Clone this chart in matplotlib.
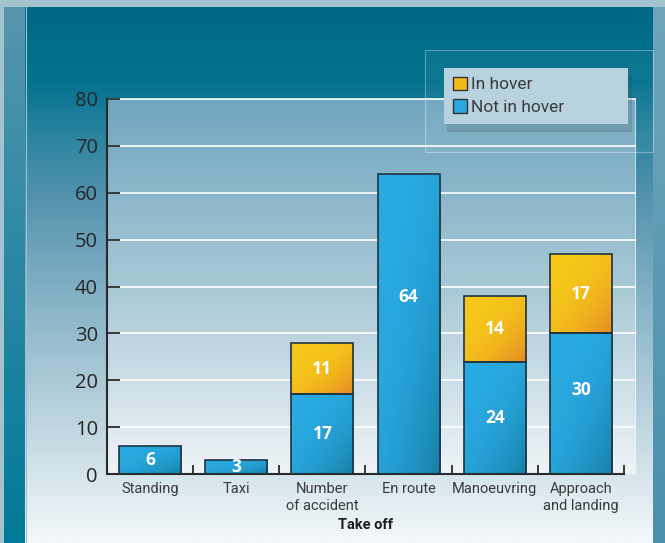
import numpy as np
import matplotlib.pyplot as plt
from matplotlib.colors import to_rgb, LinearSegmentedColormap
from matplotlib.patches import Rectangle, Patch

# Accident counts per flight phase
phases = ["Standing", "Taxi", "Number\nof accident", "En route", "Manoeuvring", "Approach\nand landing"]
not_in_hover = [6, 3, 17, 64, 24, 30]
in_hover = [0, 0, 11, 0, 14, 17]
series_names = ["In hover", "Not in hover"]
group_label = "Take off"
y_ticks = [0, 10, 20, 30, 40, 50, 60, 70, 80]

# where the value sits inside each lower segment (share of its height)
label_frac = [0.5, 0.5, 0.5, 0.59, 0.5, 0.6]

W, H = 665, 543
fig = plt.figure(figsize=(W / 100, H / 100), dpi=100)

narrow = ['Roboto', 'DejaVu Sans']
wide = ['Open Sans', 'DejaVu Sans']


def ramp(stops, n=256):
    pos = [p for p, c in stops]
    cols = np.array([to_rgb(c) for p, c in stops])
    t = np.linspace(0, 1, n)
    return np.stack([np.interp(t, pos, cols[:, k]) for k in range(3)], axis=-1)


# Background panels (pixel coordinates, y downwards)
bg = fig.add_axes([0, 0, 1, 1], zorder=-10)
bg.axis('off')
bg.add_patch(Rectangle((0, 0), W, H, color='#a3c3cf', zorder=-5))


def vband(x0, x1, y0, y1, stops):
    img = ramp(stops)[:, None, :]
    bg.imshow(img, extent=(x0, x1, y1, y0), aspect='auto', interpolation='bilinear', zorder=0)


vband(4, 25, 7, H, [(0, '#5895ad'), (0.45, '#2d89a5'), (1, '#007a98')])
vband(25, 653, 7, H, [(0, '#006985'), (0.14, '#04728f'), (0.24, '#2b84a0'),
                      (0.36, '#5593ae'), (0.55, '#87b3c7'), (0.73, '#b3cedb'),
                      (0.87, '#d4e4eb'), (1, '#f4f8fa')])
vband(653, W, 7, H, [(0, '#6ea5bb'), (1, '#4a90ac')])
vband(107, 635, 99, 474, [(0, '#70a6bf'), (0.5, '#a8c8d6'), (1, '#eff4f7')])
bg.plot([635, 635], [99, 474], color='white', lw=0.8, alpha=0.7, zorder=2)
bg.plot([25.5, 25.5], [7, H], color='#9cc3d2', lw=0.8, zorder=2)
bg.add_patch(Rectangle((425, 50), 228, 102, facecolor=(1, 1, 1, 0.04),
                       edgecolor=(1, 1, 1, 0.35), lw=0.8, zorder=2))
bg.set_xlim(0, W)
bg.set_ylim(H, 0)

# Main chart
ax = fig.add_axes([107 / W, 1 - 474 / H, 517 / W, 375 / H])
ax.set_facecolor('none')
x = np.arange(len(phases))
bar_w = 0.72

for yv in y_ticks[1:]:
    ax.plot([-0.5, 5.63], [yv, yv], color='white', lw=1.2, zorder=1, clip_on=False)


def shade_bar(patch, c_light, c_dark):
    x0, y0 = patch.get_x(), patch.get_y()
    w, h = patch.get_width(), patch.get_height()
    u, v = np.meshgrid(np.linspace(0, 1, 64), np.linspace(0, 1, 64))
    t = ((u + v) / 2) ** 2.5
    cmap = LinearSegmentedColormap.from_list('bar', [c_light, c_dark])
    im = ax.imshow(t, cmap=cmap, vmin=0, vmax=1, extent=(x0, x0 + w, y0, y0 + h),
                   origin='upper', aspect='auto', zorder=2, interpolation='bilinear')
    im.set_clip_path(patch)


edge = '#1e3440'
lower = ax.bar(x, not_in_hover, width=bar_w, facecolor='none', edgecolor=edge, lw=1.2, zorder=3)
for p in lower:
    shade_bar(p, '#2aaae2', '#167fa6')

val_font = dict(color='white', fontsize=12.5, fontweight='bold', family=wide, zorder=5)
for i, v in enumerate(in_hover):
    if v == 0:
        continue
    b = ax.bar(x[i], v, bottom=not_in_hover[i], width=bar_w, facecolor='none',
               edgecolor=edge, lw=1.2, zorder=3)[0]
    shade_bar(b, '#f6c81a', '#e58a26')
    ax.text(x[i], not_in_hover[i] + v / 2, str(v), ha='center', va='center', **val_font)

for i, v in enumerate(not_in_hover):
    ax.text(x[i], v * label_frac[i], str(v), ha='center', va='center', **val_font)

ax.set_xlim(-0.5, 5.5)
ax.set_ylim(0, 80)
ax.set_yticks(y_ticks)
ax.set_yticklabels([str(t) for t in y_ticks], family=wide, fontsize=14.5, color='#262626')
ax.tick_params(axis='y', direction='in', length=9.5, width=1.3, color='#2a2a2a', pad=6.5)

ax.set_xticks(x)
ax.set_xticklabels(phases, family=narrow, fontsize=10.5, color='#3a3a3a')
ax.tick_params(axis='x', which='major', length=0, pad=6)
ax.set_xticks(x + 0.5, minor=True)
ax.tick_params(axis='x', which='minor', direction='in', length=6.5, width=1.3, color='#2a2a2a')

for s in ['top', 'right']:
    ax.spines[s].set_visible(False)
for s in ['left', 'bottom']:
    ax.spines[s].set_color('#2a2a2a')
    ax.spines[s].set_linewidth(1.5)

ax.annotate(group_label, xy=(2.5, 0), xycoords=('data', 'axes fraction'),
            xytext=(0, -37), textcoords='offset points', ha='center', va='center',
            fontsize=10.5, fontweight='bold', family=narrow, color='#1e1e1e')

handles = [Patch(facecolor='#f3ba1c', edgecolor='#333333', lw=1, label=series_names[0]),
           Patch(facecolor='#29a8e0', edgecolor='#333333', lw=1, label=series_names[1])]
leg = fig.legend(handles=handles, loc='upper left', mode='expand',
                 bbox_to_anchor=(444 / W, 1 - 124 / H, 184 / W, 56 / H),
                 prop={'family': narrow, 'size': 12.5}, labelcolor='#3a3a3a',
                 handlelength=0.8, handleheight=0.8, handletextpad=0.25,
                 labelspacing=0.4, borderpad=0.5, borderaxespad=0,
                 fancybox=False, framealpha=1, facecolor='#b8d3df', edgecolor='none',
                 shadow={'ox': 2, 'oy': -5, 'alpha': 0.15})

fig.savefig('out.png', dpi=100)
